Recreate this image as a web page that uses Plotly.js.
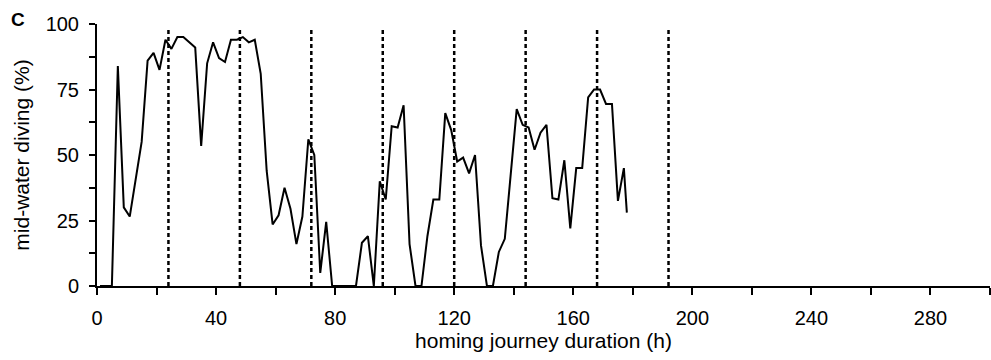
<!DOCTYPE html>
<html>
<head>
<meta charset="utf-8">
<script src="https://cdn.plot.ly/plotly-3.0.1.min.js"></script>
<style>
  html, body { margin: 0; padding: 0; background: #fff; }
  #chart { width: 991px; height: 360px; }
</style>
</head>
<body>
<div id="chart"></div>
<script>
// homing journey duration (h)
const hours = [1, 3, 5, 7, 9, 11, 13, 15, 17, 19, 21, 23, 25, 27, 29, 31, 33, 35, 37, 39,
  41, 43, 45, 47, 49, 51, 53, 55, 57, 59, 61, 63, 65, 67, 69, 71, 73, 75, 77, 79,
  81, 83, 85, 87, 89, 91, 93, 95, 97, 99, 101, 103, 105, 107, 109, 111, 113, 115, 117, 119,
  121, 123, 125, 127, 129, 131, 133, 135, 137, 139, 141, 143, 145, 147, 149, 151, 153, 155, 157, 159,
  161, 163, 165, 167, 169, 171, 173, 175, 177, 178];
// mid-water diving (%)
const diving = [0, 0, 0, 84, 30, 26.5, 41, 55, 86, 89, 82.5, 94, 90.5, 95, 95, 93, 91, 53.5, 85, 93,
  87, 85.5, 94, 94, 95, 93, 94, 81, 44, 23.5, 27, 37.5, 29.5, 16, 26.5, 56, 50, 5, 24.5, 0,
  0, 0, 0, 0, 16.5, 19, 0, 40, 33, 61, 60.5, 69, 16, 0, 0, 19, 33, 33, 66, 59.5,
  47.5, 49, 43, 50, 15.5, 0, 0, 13, 18, 43, 67.5, 61.5, 60.5, 52, 58.5, 61.5, 33.5, 33, 48, 22,
  45, 45, 72, 75, 75, 69.5, 69.5, 32.5, 45, 28];
// day boundaries (dashed markers)
const dayMarks = [24, 48, 72, 96, 120, 144, 168, 192];
const xTickVals = [0, 40, 80, 120, 160, 200, 240, 280];
const yTickVals = [0, 25, 50, 75, 100];

const FONT = "Arial, 'Liberation Sans', 'DejaVu Sans', sans-serif";

const shapes = dayMarks.map(d => ({
  type: 'line', xref: 'x', yref: 'y',
  x0: d, x1: d, y0: 0, y1: 98,
  line: { color: '#000', width: 2.5, dash: '4px,3px' },
  layer: 'below'
}));

const trace = {
  type: 'scatter', mode: 'lines',
  x: hours, y: diving,
  line: { color: '#000', width: 2 },
  hoverinfo: 'x+y'
};

const layout = {
  width: 991, height: 360,
  margin: { l: 97, r: 1, t: 24, b: 74 },
  paper_bgcolor: '#fff', plot_bgcolor: '#fff',
  showlegend: false,
  font: { family: FONT, color: '#000', size: 20 },
  xaxis: {
    range: [0, 300],
    tickvals: xTickVals,
    ticktext: xTickVals.map(String),
    ticks: 'outside', ticklen: 7, tickwidth: 2, tickcolor: '#000',
    minor: { dtick: 20, tick0: 0, ticks: 'outside', ticklen: 7, tickwidth: 2, tickcolor: '#000', showgrid: false },
    showline: true, linecolor: '#000', linewidth: 2,
    showgrid: false, zeroline: false,
    tickfont: { family: FONT, size: 20, color: '#000' },
    ticklabelstandoff: 6,
    title: { text: 'homing journey duration (h)', font: { family: FONT, size: 21, color: '#000' }, standoff: 2 }
  },
  yaxis: {
    range: [0, 100],
    tickvals: yTickVals,
    ticktext: yTickVals.map(String),
    ticks: 'outside', ticklen: 6, tickwidth: 2, tickcolor: '#000',
    minor: { dtick: 12.5, tick0: 0, ticks: 'outside', ticklen: 6, tickwidth: 2, tickcolor: '#000', showgrid: false },
    showline: true, linecolor: '#000', linewidth: 2,
    showgrid: false, zeroline: false,
    tickfont: { family: FONT, size: 20, color: '#000' },
    ticklabelstandoff: 6,
    title: { text: 'mid-water diving (%)', font: { family: FONT, size: 21, color: '#000' }, standoff: 10 }
  },
  shapes: shapes,
  annotations: [{
    text: '<b>C</b>', xref: 'paper', yref: 'paper',
    x: (18 - 97) / 893, y: (286 - 19) / 262,
    xanchor: 'center', yanchor: 'middle', showarrow: false,
    font: { family: FONT, size: 19, color: '#000' }
  }]
};

Plotly.newPlot('chart', [trace], layout, { displayModeBar: false, staticPlot: true });
</script>
</body>
</html>
